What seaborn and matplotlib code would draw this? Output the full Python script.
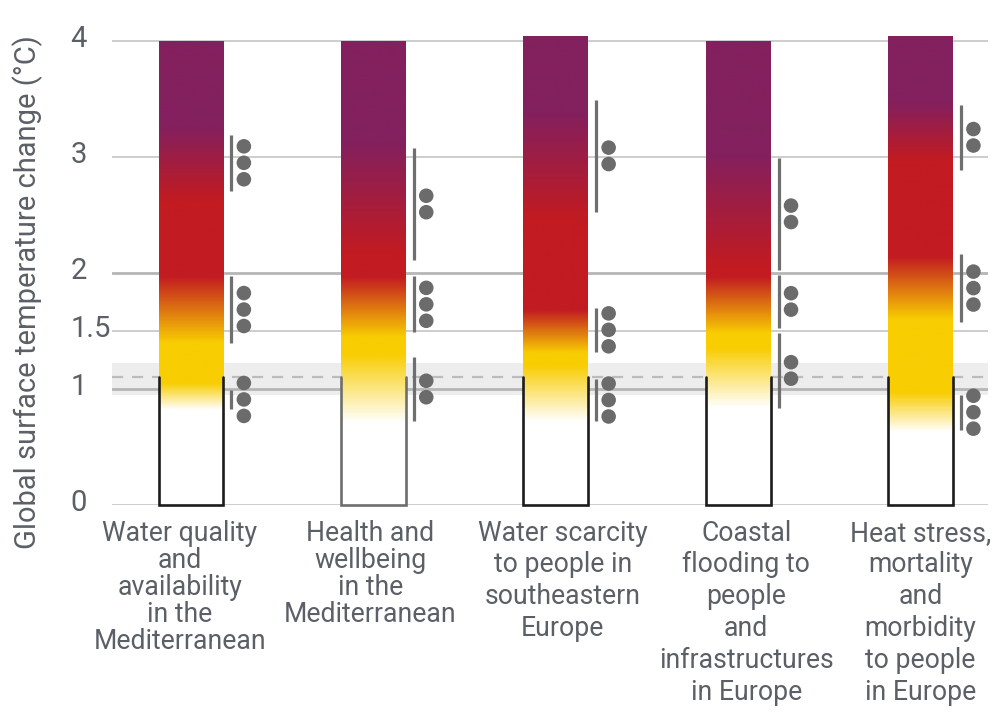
import numpy as np
import pandas as pd
import matplotlib
matplotlib.use("Agg")
import matplotlib.pyplot as plt
import matplotlib.transforms as mtransforms
from matplotlib.colors import to_rgb
import seaborn as sns

# ---- data -------------------------------------------------------------
categories = [
    "Water quality\nand\navailability\nin the\nMediterranean",
    "Health and\nwellbeing\nin the\nMediterranean",
    "Water scarcity\nto people in\nsoutheastern\nEurope",
    "Coastal\nflooding to\npeople\nand\ninfrastructures\nin Europe",
    "Heat stress,\nmortality\nand\nmorbidity\nto people\nin Europe",
]
ember_top = [4.0, 4.0, 4.04, 4.0, 4.04]

# transition ranges (°C) for each ember: white->yellow, yellow->red, red->purple
white_to_yellow = [(0.82, 1.05), (0.71, 1.30), (0.72, 1.20), (0.84, 1.35), (0.63, 0.97)]
yellow_to_red = [(1.40, 1.97), (1.45, 1.97), (1.31, 1.68), (1.48, 1.97), (1.60, 2.14)]
red_to_purple = [(2.63, 3.26), (2.17, 3.12), (2.46, 3.38), (2.05, 3.03), (2.97, 3.47)]

# confidence assessments: which ember, range of the transition, number of dots
conf_category = [0, 0, 0, 1, 1, 1, 2, 2, 2, 3, 3, 3, 4, 4, 4]
conf_low = [2.71, 1.40, 0.83, 2.11, 1.49, 0.72, 2.53, 1.32, 0.72, 2.03, 1.53, 0.84, 2.89, 1.58, 0.65]
conf_high = [3.19, 1.97, 0.99, 3.08, 1.97, 1.28, 3.49, 1.70, 1.09, 2.99, 1.98, 1.48, 3.45, 2.16, 0.95]
conf_dots = [3, 3, 3, 2, 3, 2, 2, 3, 3, 2, 2, 2, 2, 3, 3]

current_warming = 1.1
warming_band = (0.95, 1.22)
y_ticks = [0, 1, 1.5, 2, 3, 4]
y_tick_labels = ["0", "1", "1.5", "2", "3", "4"]

# ---- style ------------------------------------------------------------
sns.set_theme(style="white")
plt.rcParams["font.family"] = ["Roboto", "DejaVu Sans"]
TEXT = "#5b5f66"
WHITE = np.array(to_rgb("#ffffff"))
YELLOW = np.array(to_rgb("#f8cd02"))
RED = np.array(to_rgb("#c21b21"))
PURPLE = np.array(to_rgb("#83205e"))
BAR_WIDTH = 0.356
BOX_COLORS = ["#1c1c1c", "#6e6e6e", "#1c1c1c", "#1c1c1c", "#1c1c1c"]
LABEL_SPACING = [1.0, 1.0, 1.23, 1.23, 1.23]
LABEL_SHIFT_PX = [-11, -3, 7, 8, 0]

fig = plt.figure(figsize=(9.93, 7.22), dpi=100)
ax = fig.add_axes([112 / 993, 217 / 722, 876 / 993, 4.05 * 116 / 722])

# plain base bars give the ember geometry
sns.barplot(x=categories, y=ember_top, width=BAR_WIDTH, color="white",
            linewidth=0, ax=ax, zorder=2)


def ember_colors(levels, w, yr, rp):
    nodes = [0.0, w[0], w[1], yr[0], yr[1], rp[0], rp[1], 10.0]
    cols = [WHITE, WHITE, YELLOW, YELLOW, RED, RED, PURPLE, PURPLE]
    return np.stack([np.interp(levels, nodes, [c[k] for c in cols]) for k in range(3)], axis=-1)


for i, patch in enumerate(ax.patches[:len(categories)]):
    x0 = patch.get_x()
    x1 = x0 + patch.get_width()
    top = ember_top[i]
    levels = np.linspace(0, top, 900)
    rgb = ember_colors(levels, white_to_yellow[i], yellow_to_red[i], red_to_purple[i])
    img = ax.imshow(rgb[:, None, :], origin="lower", extent=[x0, x1, 0, top],
                    aspect="auto", interpolation="bilinear", zorder=3)
    img.set_clip_path(patch)
    # outline of the lower, already-observed part of the ember
    ax.plot([x0, x0, x1, x1], [current_warming, 0, 0, current_warming],
            color=BOX_COLORS[i], lw=1.9, zorder=4, clip_on=False,
            solid_joinstyle="miter")

# confidence lines and dots
dot_rows = []
for c, lo, hi, n in zip(conf_category, conf_low, conf_high, conf_dots):
    right = c + BAR_WIDTH / 2
    ax.plot([right + 0.044, right + 0.044], [lo, hi], color="#6f6f6f", lw=2.3,
            solid_capstyle="butt", zorder=4)
    mid = (lo + hi) / 2
    for k in range(n):
        dot_rows.append({"x": right + 0.112, "y": mid + (k - (n - 1) / 2) * 0.142})
dots = pd.DataFrame(dot_rows)
sns.scatterplot(data=dots, x="x", y="y", s=110, color="#6b6b6b", edgecolor="none",
                ax=ax, zorder=5)

# horizontal reference lines and current-warming band
ax.axhspan(*warming_band, color="#ededed", zorder=0, lw=0)
for t in y_ticks:
    strong = t in (1, 2)
    ax.axhline(t, color="#b6b6b6" if strong else "#c9c9c9", lw=2.0 if strong else 1.3,
               zorder=1)
ax.axhline(current_warming, color="#bcbcbc", lw=1.6, ls=(0, (5, 4)), zorder=1)

ax.set_xlim(-0.433, 4.37)
ax.set_ylim(0, 4.05)
ax.set_xlabel("")
ax.set_ylabel("")
for s in ax.spines.values():
    s.set_visible(False)

ax.set_yticks(y_ticks, y_tick_labels)
ax.tick_params(axis="y", length=0, pad=30, labelsize=21, labelcolor=TEXT)
shift = mtransforms.ScaledTranslation(0, 5 / 100, fig.dpi_scale_trans)
for lab in ax.get_yticklabels():
    lab.set_horizontalalignment("left")
    lab.set_transform(lab.get_transform() + shift)

ax.tick_params(axis="x", length=0, pad=10.5, labelsize=19.2, labelcolor=TEXT)
for lab, sp, dx in zip(ax.get_xticklabels(), LABEL_SPACING, LABEL_SHIFT_PX):
    lab.set_linespacing(sp)
    lab.set_transform(lab.get_transform()
                      + mtransforms.ScaledTranslation(dx / 100, 0, fig.dpi_scale_trans))

fig.text(28 / 993, 1 - 292 / 722, "Global surface temperature change (°C)",
         rotation=90, ha="center", va="center", fontsize=21, color=TEXT)

fig.savefig("out.png", dpi=100, facecolor="white")
